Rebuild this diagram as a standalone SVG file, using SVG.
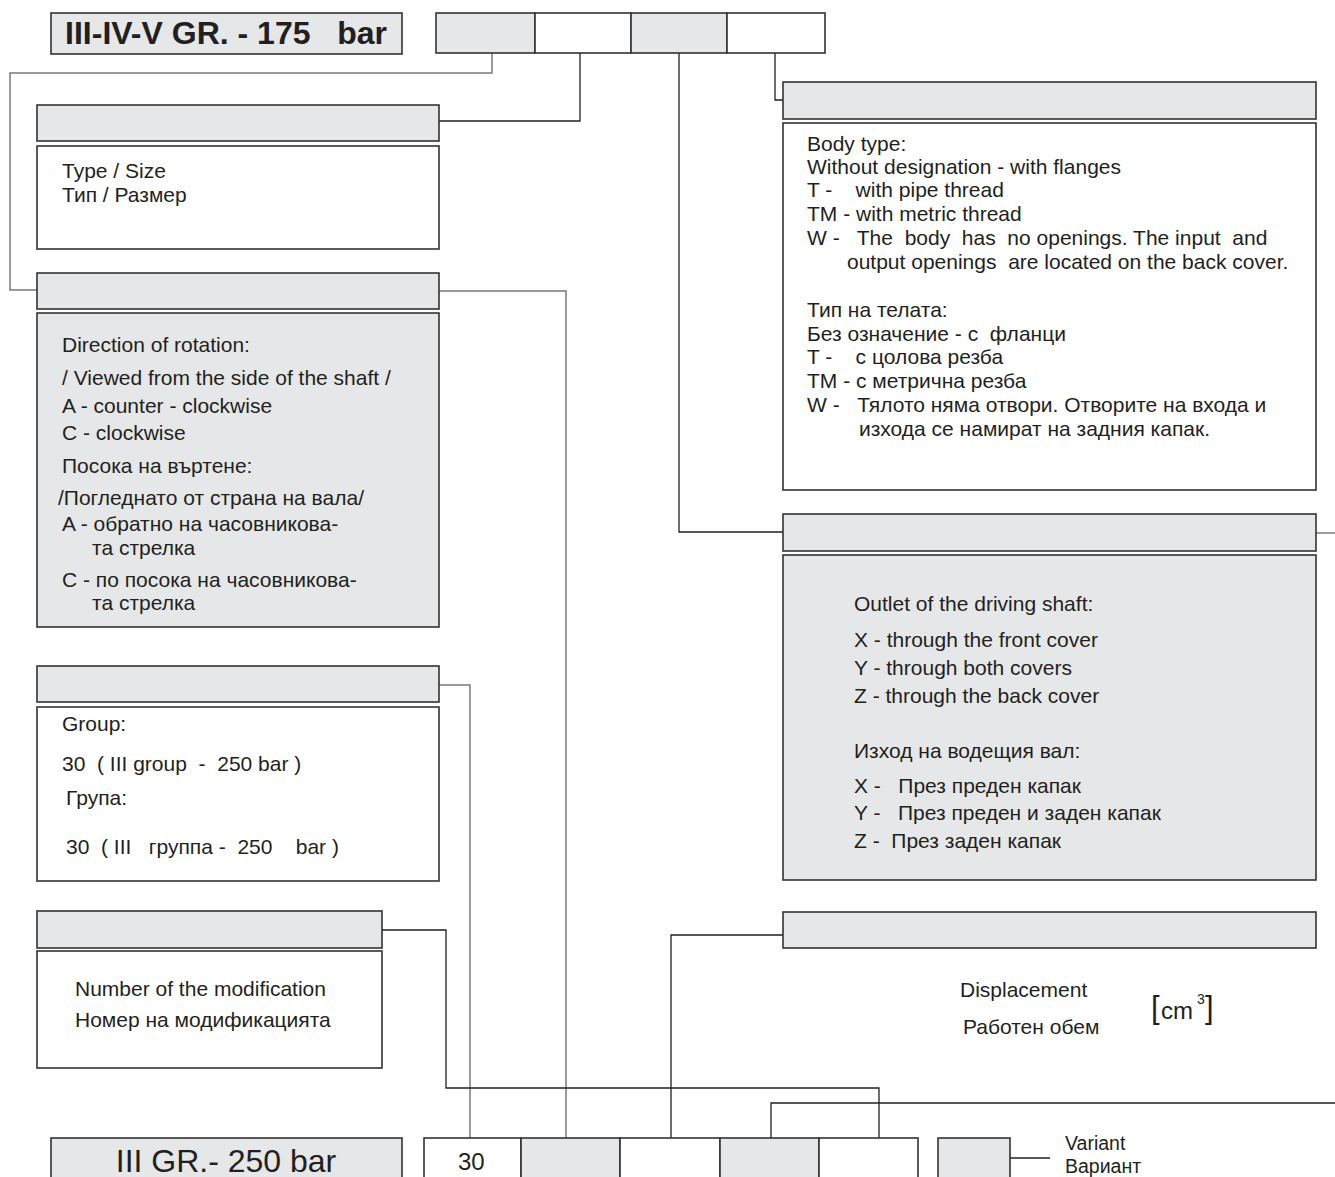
<svg xmlns="http://www.w3.org/2000/svg" width="1335" height="1177" viewBox="0 0 1335 1177">
<style>
.g{fill:#e6e7e8;stroke:#333;stroke-width:1.6}
.w{fill:#fff;stroke:#333;stroke-width:1.6}
.ln{fill:none;stroke:#231f20;stroke-width:1.3}
.lg{fill:none;stroke:#7a7a7a;stroke-width:1.5}
text{font-family:"Liberation Sans",Arial,sans-serif;fill:#231f20;font-size:21px;white-space:pre}
.t{font-size:32px;font-weight:bold}
.b{font-size:32px}
.v{font-size:19.5px}
</style>
<rect width="1335" height="1177" fill="#fff"/>
<g id="connectors">
<polyline class="lg" points="492,53 492,73 10,73 10,290 37,290"/>
<polyline class="ln" points="580,53 580,121 439,121"/>
<polyline class="ln" points="679,53 679,532 783,532"/>
<polyline class="ln" points="775,53 775,100 783,100"/>
<polyline class="lg" points="439,291 566,291 566,1138"/>
<polyline class="lg" points="439,685 470,685 470,1138"/>
<polyline class="ln" points="382,930 446,930 446,1088 879,1088 879,1138"/>
<polyline class="ln" points="783,935 671,935 671,1138"/>
<polyline class="lg" points="1316,533 1335,533"/>
<polyline class="ln" points="1335,1103 771,1103 771,1138"/>
<polyline class="ln" points="1010,1158 1050,1158"/>
</g>
<g id="title-top">
<rect class="g" x="51" y="13" width="351" height="41"/>
<text class="t" x="226" y="44" text-anchor="middle">III-IV-V GR. - 175   bar</text>
</g>
<g id="code-top">
<rect class="g" x="436" y="13" width="99" height="40"/>
<rect class="w" x="535" y="13" width="96" height="40"/>
<rect class="g" x="631" y="13" width="96" height="40"/>
<rect class="w" x="727" y="13" width="98" height="40"/>
</g>
<g id="type-size">
<rect class="g" x="37" y="105" width="402" height="36"/>
<rect class="w" x="37" y="146" width="402" height="103"/>
<text x="62" y="178">Type / Size</text>
<text x="62" y="202">Тип / Размер</text>
</g>
<g id="direction">
<rect class="g" x="37" y="273" width="402" height="36"/>
<rect class="g" x="37" y="313" width="402" height="314"/>
<text x="62" y="352">Direction of rotation:</text>
<text x="62" y="385">/ Viewed from the side of the shaft /</text>
<text x="62" y="413">A - counter - clockwise</text>
<text x="62" y="440">C - clockwise</text>
<text x="62" y="473">Посока на въртене:</text>
<text x="58" y="505">/Погледнато от страна на вала/</text>
<text x="62" y="531">A - обратно на часовникова-</text>
<text x="92" y="555">та стрелка</text>
<text x="62" y="587">C - по посока на часовникова-</text>
<text x="92" y="610">та стрелка</text>
</g>
<g id="group">
<rect class="g" x="37" y="666" width="402" height="36"/>
<rect class="w" x="37" y="707" width="402" height="174"/>
<text x="62" y="731">Group:</text>
<text x="62" y="771">30  ( III group  -  250 bar )</text>
<text x="66" y="805">Група:</text>
<text x="66" y="854">30  ( III   группа -  250    bar )</text>
</g>
<g id="modification">
<rect class="g" x="37" y="911" width="345" height="37"/>
<rect class="w" x="37" y="951" width="345" height="117"/>
<text x="75" y="996">Number of the modification</text>
<text x="75" y="1027">Номер на модификацията</text>
</g>
<g id="body-type">
<rect class="g" x="783" y="82" width="533" height="37"/>
<rect class="w" x="783" y="123" width="533" height="367"/>
<text x="807" y="151">Body type:</text>
<text x="807" y="174">Without designation - with flanges</text>
<text x="807" y="197">T -    with pipe thread</text>
<text x="807" y="221">TM - with metric thread</text>
<text x="807" y="245">W -   The  body  has  no openings. The input  and</text>
<text x="847" y="269">output openings  are located on the back cover.</text>
<text x="807" y="317">Тип на телата:</text>
<text x="807" y="341">Без означение - с  фланци</text>
<text x="807" y="364">T -    с цолова резба</text>
<text x="807" y="388">TM - с метрична резба</text>
<text x="807" y="412">W -   Тялото няма отвори. Отворите на входа и</text>
<text x="859" y="436">изхода се намират на задния капак.</text>
</g>
<g id="outlet">
<rect class="g" x="783" y="514" width="533" height="37"/>
<rect class="g" x="783" y="555" width="533" height="325"/>
<text x="854" y="611">Outlet of the driving shaft:</text>
<text x="854" y="647">X - through the front cover</text>
<text x="854" y="675">Y - through both covers</text>
<text x="854" y="703">Z - through the back cover</text>
<text x="854" y="758">Изход на водещия вал:</text>
<text x="854" y="793">X -   През преден капак</text>
<text x="854" y="820">Y -   През преден и заден капак</text>
<text x="854" y="848">Z -  През заден капак</text>
</g>
<g id="displacement">
<rect class="g" x="783" y="912" width="533" height="36"/>
<text x="960" y="997">Displacement</text>
<text x="963" y="1034">Работен обем</text>
<text x="1151" y="1018" style="font-size:31px">[</text>
<text x="1161" y="1019" style="font-size:24px">cm</text>
<text x="1197" y="1004" style="font-size:14px">3</text>
<text x="1205" y="1018" style="font-size:31px">]</text>
</g>
<g id="title-bottom">
<rect class="g" x="51" y="1138" width="351" height="45"/>
<text class="b" x="226" y="1172" text-anchor="middle">III GR.- 250 bar</text>
</g>
<g id="code-bottom">
<rect class="w" x="424" y="1138" width="97" height="45"/>
<rect class="g" x="521" y="1138" width="99" height="45"/>
<rect class="w" x="620" y="1138" width="100" height="45"/>
<rect class="g" x="720" y="1138" width="99" height="45"/>
<rect class="w" x="819" y="1138" width="99" height="45"/>
<text x="458" y="1170" style="font-size:24px">30</text>
</g>
<g id="variant">
<rect class="g" x="938" y="1138" width="72" height="45"/>
<text class="v" x="1065" y="1150">Variant</text>
<text class="v" x="1065" y="1173">Вариант</text>
</g>
</svg>
